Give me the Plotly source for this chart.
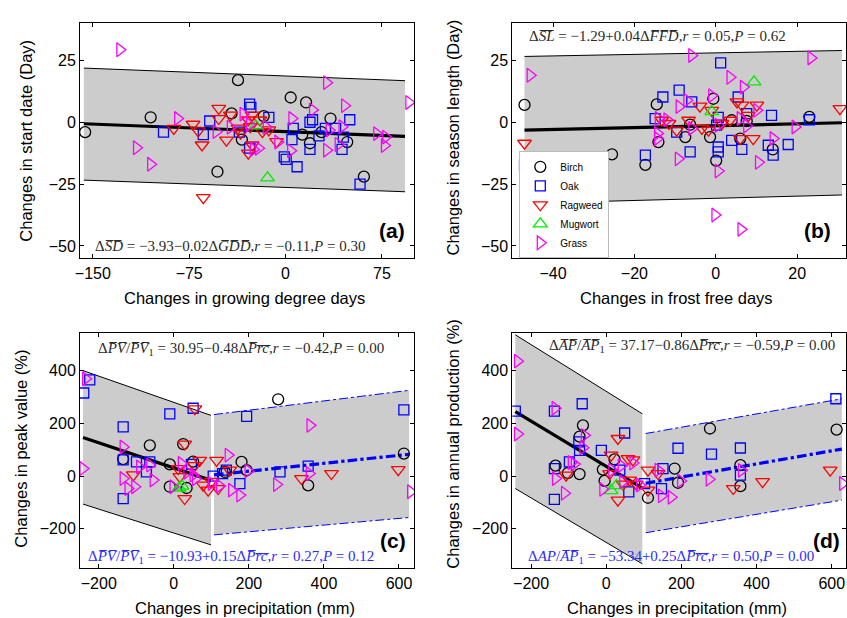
import plotly.graph_objects as go

# ---------------- data: panel (a) GDD vs start date ----------------
a_birch_x = [-156, -105, -42, -37, -53, -34, -17, 4, 16, 13, 19, 35, 28, 48, 61]
a_birch_y = [-4, 2, 3.6, 17, -20, -7, 2.5, 10, 8, -5, -8.5, 1.5, -4, -8, -22]
a_oak_x = [-95, -64, -59, -28, -27, -13, -28, -36, -1, 0.5, 9, 6, 5, 19, 21, 19, 31, 39, 45, 44, 50, 58, 26]
a_oak_y = [-4, -5, 0.5, 7.3, 6, 2, -10.5, -4, -14, -15, -18, -2.5, -7, 0, 1, -11, -2.5, -2.5, -6, -11, 1, -25, -5.5]
a_rag_x = [-87, -72, -68, -65, -64, -52, -52, -43, -46, -37, -35, -29, -26, -27.5, -29, -26, -20, -13, -7, -18]
a_rag_y = [-2.5, -0.8, -3.5, -9.2, -30.5, 5.6, 1.5, 2.9, -7.2, -2.4, -4.4, 0.9, 2.9, -1.8, -12.5, -9.2, 0.9, -3.1, -7.8, -3.8]
a_mug_x = [-23, -14]
a_mug_y = [-1.5, -22.5]
a_grass_x = [-129, -116, -105, -84, -54, -43, -33, -25, -21, -15, -6, 4, 5, 21, 32, 34, 32, 46, 44, 41, 71, 78, 77, 96, -28]
a_grass_y = [29.3, -10.3, -17, 1.5, -3.8, -2, 3.3, -11, -10.5, -2, -8, -11.5, 1.5, 5, 16, -3.2, -11.3, 6.7, -1.8, -9, -4.6, -6, -9.4, 8, -1]
a_band_x = [-157, 93]
a_band_up = [21.9, 16.8]
a_band_lo = [-23.4, -28.1]
a_fit = [-0.6, -5.7]

# ---------------- data: panel (b) FFD vs season length ----------------
b_birch_x = [-47, -25.5, -17.3, -14.5, -14.1, -7.5, -6.3, -1.4, -0.6, 0.1, 3.9, 6, 7.6, 14, 23]
b_birch_y = [7, -13, -17.2, 7.2, -8, -6, -1, -6, 9.5, -15.5, 0.8, -6.6, 0.5, -11, 2.2]
b_oak_x = [-47, -17.3, -14.9, -13, -9, -5.9, -6.3, -9.6, 0.2, 1.2, 0.6, 0.6, 0.6, 3.9, 5.5, 6.4, 7.6, 13.7, 12.9, 14.1, 17.8, 23]
b_oak_y = [-17.2, -13.3, 1.5, 10.2, 13, 8.2, -12, -4, -1.2, 24, 2, -10, -12, -7.3, 10.2, -11, 3.5, 2.8, -9.3, -13.3, -9, 1]
b_rag_x = [-47, -13.3, -11.5, -9.6, -6.7, -3.9, -3.4, -1, -1.8, 3.5, 5.2, 6.4, 6, 8, 9.2, 10.1, 30.5, 1.5]
b_rag_y = [-8.5, 0.8, -0.5, -3.2, 0.8, 6.5, -2.5, 4.8, -3.2, 0.8, 8.2, 6.9, -6.6, 2.8, -6.6, 6.9, 5.5, -0.5]
b_mug_x = [9.4, -1]
b_mug_y = [16.3, 4.3]
b_grass_x = [-45.6, -14.1, -14.3, -14.3, -9.2, -9, -5.9, -7.1, -5.9, -1, 0.6, 0.6, -0.2, 3.5, 6.2, 6.8, 6, 7.6, 10.5, 10.1, 14.1, 19.5, 23.4, -12]
b_grass_y = [19, 1.5, -4.5, -6.6, -14.8, 6.3, 27, 8.9, -2.5, 10.7, -1.2, -19.7, -37.5, 18.2, -43.3, 14.2, 1.5, -1.5, -16.2, 4.8, -6.6, -1.9, 26, 1]
b_band_x = [-47, 31]
b_band_up = [26.6, 29]
b_band_lo = [-32.8, -29.4]
b_fit = [-3.2, -0.2]

# ---------------- data: panel (c) precipitation vs peak value ----------------
c_birch_x = [-135, -64, -10.7, 25, 51.5, 136, 180.5, 194, -10.7, 34, 278, 358, 613]
c_birch_y = [65, 117, 45, 122, 55, 16, 54, 23, -40, -45, 292, -35, 86]
c_oak_x = [-240, -224, -135, -135, -135, -99.5, -64, -73, -10.7, 51.5, 47, 105, 140, 176, 194, 283, 358, 613, 130]
c_oak_y = [316, 366, 187, 62, -85, 54, 54, 16, 237, 258, 45, 0, 23, -28, 227, 16, 38, 252, 10]
c_rag_x = [56, 29, -108, 11.5, 16, 69, 114, 149, 29, 91.5, 118, 78, 340, 420, 598, 55, 100]
c_rag_y = [256, 122, 5, 29, -2, 60, 60, 23, -85, -53, -47, -34, -9, 10, 25, 40, -20]
c_mug_x = [14, 22]
c_mug_y = [-45, -38]
c_grass_x = [-242, -235, -135, -135, -122, -104, -91, -64, -55, 20, 51.5, 58, 100, 145, 154, 176, 198, 274, 363, 361, -2, 122, 35, 631]
c_grass_y = [29, 370, 111, -9, -47, -40, 35, 42, -15, 48, 4, -10, -28, 80, -53, -72, 20, -32, 193, 10, -40, -37, 15, -59]
c_lband_x = [-242, 99]
c_lband_up = [401, 231]
c_lband_lo = [-106, -261]
c_lfit = [147, -16]
c_rband_x = [107, 627]
c_rband_up = [234, 326]
c_rband_lo = [-223, -157]
c_rfit = [5, 83]

# ---------------- data: panel (d) precipitation vs annual production ----------------
d_birch_x = [-135, -102, -71, -62, -71, -9, -4.5, 22, 111, 182, 191, 276, 357, 357, 613]
d_birch_y = [40, 12, 8, 193, 150, 25, -18, 64, -82, 29, -25, 181, 42, -38, 177]
d_oak_x = [-242, -138, -138, -138, -73, -64, -71, -13, 49, -98, 36, 102, 147, 151, 191, 280, 357, 357, 611, 60]
d_oak_y = [247, 247, 29, -88, 130, 275, 98, 98, 164, 54, 23, -28, -47, 29, 106, 84, 107, 4, 294, -60]
d_rag_x = [31, 13, -107, 58, 71, 9, 111, 138, 31, 62, 80, 111, 338, 416, 596, 45]
d_rag_y = [143, 80, 4, 67, 62, 10, 23, 10, -91, -15, -30, -53, -47, -21, 23, -30]
d_mug_x = [13, 27]
d_mug_y = [-55, -36]
d_grass_x = [-236, -236, -136, -135, -111, -93, -85, -58, -62, -9, 15, 44, 71, 89, 138, 147, 173, 198, 274, 360, 629, 40]
d_grass_y = [437, 160, 258, -9, -65, 52, 46, 155, 108, -50, 23, -21, 50, -34, 23, -75, -80, -18, -12, 22, -28, 40]
d_lband_x = [-242, 96]
d_lband_up = [537, 237]
d_lband_lo = [-47, -333]
d_lfit = [245, -45]
d_rband_x = [105, 627]
d_rband_up = [162, 294]
d_rband_lo = [-215, -91]
d_rfit = [-27, 103]

species = ["Birch", "Oak", "Ragweed", "Mugwort", "Grass"]

# ---------------- styling ----------------
styles = {
    "Birch": dict(symbol="circle-open", color="black", size=11),
    "Oak": dict(symbol="square-open", color="#0000ff", size=10),
    "Ragweed": dict(symbol="triangle-down-open", color="#ff0000", size=12),
    "Mugwort": dict(symbol="triangle-up-open", color="#00ee00", size=12),
    "Grass": dict(symbol="triangle-right-open", color="#ff00ff", size=12),
}
BAND = "#cccccc"
FONT = "Liberation Sans, Arial, Helvetica, sans-serif"
SERIF = "Liberation Serif, DejaVu Serif, serif"

fig = go.Figure()


def add_band(xa, ya, bx, up, lo, fit, edge_color, dash):
    fig.add_trace(go.Scatter(x=bx + bx[::-1], y=up + lo[::-1], fill="toself",
                             fillcolor=BAND, mode="none", xaxis=xa, yaxis=ya,
                             showlegend=False, hoverinfo="skip"))
    for yy in (up, lo):
        fig.add_trace(go.Scatter(x=bx, y=yy, mode="lines", xaxis=xa, yaxis=ya,
                                 line=dict(color=edge_color, width=1, dash=dash),
                                 showlegend=False, hoverinfo="skip"))
    fig.add_trace(go.Scatter(x=bx, y=fit, mode="lines", xaxis=xa, yaxis=ya,
                             line=dict(color=edge_color, width=3.2, dash=dash),
                             showlegend=False, hoverinfo="skip"))


add_band("x", "y", a_band_x, a_band_up, a_band_lo, a_fit, "black", "solid")
add_band("x2", "y2", b_band_x, b_band_up, b_band_lo, b_fit, "black", "solid")
add_band("x3", "y3", c_lband_x, c_lband_up, c_lband_lo, c_lfit, "black", "solid")
add_band("x3", "y3", c_rband_x, c_rband_up, c_rband_lo, c_rfit, "#0000ff", "dashdot")
add_band("x4", "y4", d_lband_x, d_lband_up, d_lband_lo, d_lfit, "black", "solid")
add_band("x4", "y4", d_rband_x, d_rband_up, d_rband_lo, d_rfit, "#0000ff", "dashdot")

panels = [
    ("x", "y", [a_birch_x, a_oak_x, a_rag_x, a_mug_x, a_grass_x],
     [a_birch_y, a_oak_y, a_rag_y, a_mug_y, a_grass_y], False),
    ("x2", "y2", [b_birch_x, b_oak_x, b_rag_x, b_mug_x, b_grass_x],
     [b_birch_y, b_oak_y, b_rag_y, b_mug_y, b_grass_y], True),
    ("x3", "y3", [c_birch_x, c_oak_x, c_rag_x, c_mug_x, c_grass_x],
     [c_birch_y, c_oak_y, c_rag_y, c_mug_y, c_grass_y], False),
    ("x4", "y4", [d_birch_x, d_oak_x, d_rag_x, d_mug_x, d_grass_x],
     [d_birch_y, d_oak_y, d_rag_y, d_mug_y, d_grass_y], False),
]
for xa, ya, xs, ys, leg in panels:
    for sp, xv, yv in zip(species, xs, ys):
        st = styles[sp]
        fig.add_trace(go.Scatter(
            x=xv, y=yv, mode="markers", name=sp, xaxis=xa, yaxis=ya,
            legendgroup=sp, showlegend=leg,
            marker=dict(symbol=st["symbol"], size=st["size"], color=st["color"],
                        line=dict(color=st["color"], width=1.3))))

# ---------------- axes ----------------
dom_left = [80 / 847, 414 / 847]
dom_right = [512.3 / 847, 846 / 847]
dom_top = [1 - 258.3 / 618, 1 - 23.3 / 618]
dom_bot = [1 - 568.3 / 618, 1 - 332.7 / 618]

def ax(domain, rng, ticks, anchor):
    return dict(domain=domain, range=rng, tickvals=ticks, anchor=anchor,
                automargin=False,
                showgrid=False, zeroline=False, showline=True, linecolor="black",
                linewidth=1, mirror="ticks", ticks="inside", ticklen=4,
                tickcolor="black", tickwidth=1,
                tickfont=dict(family=FONT, size=16, color="black"))

fig.update_layout(
    xaxis=ax(dom_left, [-160, 100], [-150, -75, 0, 75], "y"),
    yaxis=ax(dom_top, [-55, 40], [-50, -25, 0, 25], "x"),
    xaxis2=ax(dom_right, [-50, 32], [-40, -20, 0, 20], "y2"),
    yaxis2=ax(dom_top, [-55, 40], [-50, -25, 0, 25], "x2"),
    xaxis3=ax(dom_left, [-250, 640], [-200, 0, 200, 400, 600], "y3"),
    yaxis3=ax(dom_bot, [-350, 545], [-200, 0, 200, 400], "x3"),
    xaxis4=ax(dom_right, [-250, 638], [-200, 0, 200, 400, 600], "y4"),
    yaxis4=ax(dom_bot, [-350, 545], [-200, 0, 200, 400], "x4"),
)

# ---------------- text ----------------
OL = "\u0305"
def ol(s):
    return "".join(ch + OL for ch in s)

ann = []
def title_x(axn, text, xc):
    ann.append(dict(xref=f"x{axn} domain", yref=f"y{axn} domain", x=xc, y=-39.5 / 235,
                    text=text, showarrow=False, xanchor="center", yanchor="middle",
                    font=dict(family=FONT, size=16.5, color="black")))

def title_y(axn, text, xd, yc):
    ann.append(dict(xref=f"x{axn} domain", yref=f"y{axn} domain", x=xd, y=yc,
                    text=text, showarrow=False, textangle=-90, xanchor="center",
                    yanchor="middle", font=dict(family=FONT, size=16.5, color="black")))

def eq(axn, text, xd, yd, color):
    ann.append(dict(xref=f"x{axn} domain", yref=f"y{axn} domain", x=xd, y=yd,
                    text=text, showarrow=False, xanchor="left", yanchor="middle",
                    font=dict(family=SERIF, size=15, color=color)))

def lab(axn, text, xd, yd):
    ann.append(dict(xref=f"x{axn} domain", yref=f"y{axn} domain", x=xd, y=yd,
                    text=f"<b>{text}</b>", showarrow=False, xanchor="right",
                    yanchor="middle", font=dict(family=FONT, size=21, color="black")))

title_x("", "Changes in growing degree days", 0.494)
title_x("2", "Changes in frost free days", 0.492)
title_x("3", "Changes in precipitation (mm)", 0.494)
title_x("4", "Changes in precipitation (mm)", 0.495)
title_y("", "Changes in start date (Day)", -0.162, 0.5)
title_y("2", "Changes in season length (Day)", -0.177, 0.515)
title_y("3", "Changes in peak value (%)", -0.175, 0.506)
title_y("4", "Changes in annual production (%)", -0.177, 0.53)

GRAY = "#2a2a2a"
BLUE = "#2b2bff"
eq("", f"Δ<i>{ol('SD')}</i> = −3.93−0.02Δ<i>{ol('GDD')}</i>,<i>r</i> = −0.11,<i>P</i> = 0.30",
   0.038, 0.054, GRAY)
eq("2", f"Δ<i>{ol('SL')}</i> = −1.29+0.04Δ<i>{ol('FFD')}</i>,<i>r</i> = 0.05,<i>P</i> = 0.62",
   0.045, 0.946, GRAY)
eq("3", f"Δ<i>{ol('PV')}</i>/<i>{ol('PV')}</i><sub>1</sub> = 30.95−0.48Δ<i>{ol('Prc')}</i>,<i>r</i> = −0.42,<i>P</i> = 0.00",
   0.048, 0.931, GRAY)
eq("3", f"Δ<i>{ol('PV')}</i>/<i>{ol('PV')}</i><sub>1</sub> = −10.93+0.15Δ<i>{ol('Prc')}</i>,<i>r</i> = 0.27,<i>P</i> = 0.12",
   0.018, 0.047, BLUE)
eq("4", f"Δ<i>{ol('AP')}</i>/<i>{ol('AP')}</i><sub>1</sub> = 37.17−0.86Δ<i>{ol('Prc')}</i>,<i>r</i> = −0.59,<i>P</i> = 0.00",
   0.103, 0.944, GRAY)
eq("4", f"Δ<i>AP</i>/<i>{ol('AP')}</i><sub>1</sub> = −53.34+0.25Δ<i>{ol('Prc')}</i>,<i>r</i> = 0.50,<i>P</i> = 0.00",
   0.041, 0.047, BLUE)

lab("", "(a)", 0.978, 0.12)
lab("2", "(b)", 0.961, 0.12)
lab("3", "(c)", 0.982, 0.12)
lab("4", "(d)", 0.987, 0.12)

fig.update_layout(
    annotations=ann,
    width=847, height=618,
    margin=dict(l=0, r=0, t=0, b=0),
    paper_bgcolor="white", plot_bgcolor="white",
    showlegend=True,
    hovermode=False,
    legend=dict(x=519.3 / 847, y=1 - 258.3 / 618, xanchor="left", yanchor="bottom",
                bgcolor="white", bordercolor="#bbbbbb", borderwidth=1,
                font=dict(family=FONT, size=10, color="black"),
                tracegroupgap=0, itemwidth=30),
)

fig.write_html("out.html",
               config={"displayModeBar": False},
               post_script="document.body.style.margin='0px';document.body.style.overflow='hidden';")
